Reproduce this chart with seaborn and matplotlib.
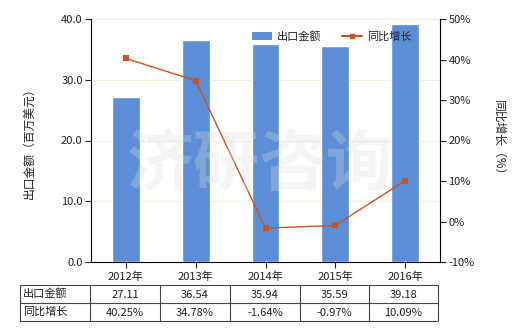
import matplotlib
matplotlib.use("Agg")
import matplotlib.pyplot as plt
import seaborn as sns
import numpy as np
import pandas as pd
from matplotlib.lines import Line2D
from matplotlib.patches import Patch

years = ["2012年", "2013年", "2014年", "2015年", "2016年"]
export_values = [27.11, 36.54, 35.94, 35.59, 39.18]
growth_values = [40.25, 34.78, -1.64, -0.97, 10.09]
export_labels = ["27.11", "36.54", "35.94", "35.59", "39.18"]
growth_labels = ["40.25%", "34.78%", "-1.64%", "-0.97%", "10.09%"]
row_names = ["出口金额", "同比增长"]

sns.set_style("white")
plt.rcParams['font.family'] = ['Noto Sans CJK SC', 'DejaVu Sans']
plt.rcParams['axes.unicode_minus'] = False

W, H = 520, 330
fig = plt.figure(figsize=(5.2, 3.3), dpi=100)
L, R, T, B = 91, 440, 19, 262
ax = fig.add_axes([L / W, 1 - B / H, (R - L) / W, (B - T) / H])

bar_color = "#5B8ED6"
line_color = "#C9531F"
txt = "#222222"

df = pd.DataFrame({"year": years, "value": export_values, "growth": growth_values})
sns.barplot(data=df, x="year", y="value", color=bar_color, width=0.4,
            saturation=1, ax=ax, zorder=3)
ax.set_ylim(0, 40)
ax.set_xlim(-0.5, 4.5)
ax.set_yticks([0, 10, 20, 30, 40])
ax.set_yticklabels([f"{v:.1f}" for v in [0, 10, 20, 30, 40]])
ax.set_xlabel("")
ax.set_ylabel("出口金额（百万美元）", fontsize=8.5, color=txt, labelpad=18)
for v in [10, 20, 30, 40]:
    ax.axhline(v, color="#EEEEDD", lw=0.8, zorder=0)
ax.tick_params(axis="both", labelsize=8, colors=txt, length=4, width=0.8, direction="out")
ax.tick_params(axis="y", left=True, pad=2)
ax.tick_params(axis="x", bottom=True, pad=3)
for s in ["left", "bottom"]:
    ax.spines[s].set_color("black")
    ax.spines[s].set_linewidth(0.8)
ax.spines["top"].set_visible(False)
ax.spines["right"].set_visible(False)

ax2 = ax.twinx()
sns.lineplot(x=np.arange(len(years)), y=growth_values, ax=ax2, color=line_color,
             marker="s", markersize=4, markeredgewidth=0, lw=1, zorder=4)
ax2.set_ylim(-10, 50)
ax2.set_yticks([-10, 0, 10, 20, 30, 40, 50])
ax2.set_yticklabels([f"{v}%" for v in [-10, 0, 10, 20, 30, 40, 50]])
ax2.set_ylabel("同比增长（%）", fontsize=8.5, color=txt, rotation=270, labelpad=22)
ax2.tick_params(axis="y", right=True, labelsize=8, colors=txt, length=4, width=0.8, pad=2)
for s in ["left", "top", "bottom"]:
    ax2.spines[s].set_visible(False)
ax2.spines["right"].set_color("black")
ax2.spines["right"].set_linewidth(0.8)

# watermark
fig.text(0.5, 0.5, "济研咨询", fontsize=48, color="#DDDDDD", alpha=0.3,
         ha="center", va="center", fontweight="bold", zorder=10)

# legend
handles = [Patch(facecolor=bar_color, edgecolor="none"),
           Line2D([0], [0], color=line_color, lw=1.5, marker="s", markersize=3)]
ax.legend(handles, row_names, loc="upper center", bbox_to_anchor=(0.69, 0.99),
          ncol=2, frameon=False, fontsize=8, handlelength=1.8, columnspacing=1.8,
          handletextpad=0.5)

# table
def fx(px):
    return px / W
def fy(py):
    return 1 - py / H

cols = [20, 90, 160, 230, 300, 369, 438]
rows = [285, 303, 321]
lc = "#444444"
for y in rows:
    fig.add_artist(Line2D([fx(cols[0]), fx(cols[-1])], [fy(y), fy(y)], color=lc, lw=0.8))
for x in cols:
    fig.add_artist(Line2D([fx(x), fx(x)], [fy(rows[0]), fy(rows[-1])], color=lc, lw=0.8))
for r, (name, labels) in enumerate(zip(row_names, [export_labels, growth_labels])):
    yc = (rows[r] + rows[r + 1]) / 2
    fig.text(fx(cols[0] + 3), fy(yc), name, fontsize=8, color=txt, ha="left", va="center")
    for i, lab in enumerate(labels):
        xc = (cols[i + 1] + cols[i + 2]) / 2
        fig.text(fx(xc), fy(yc + 1), lab, fontsize=8, color=txt, ha="center", va="center")

fig.savefig("out.png", dpi=100)
